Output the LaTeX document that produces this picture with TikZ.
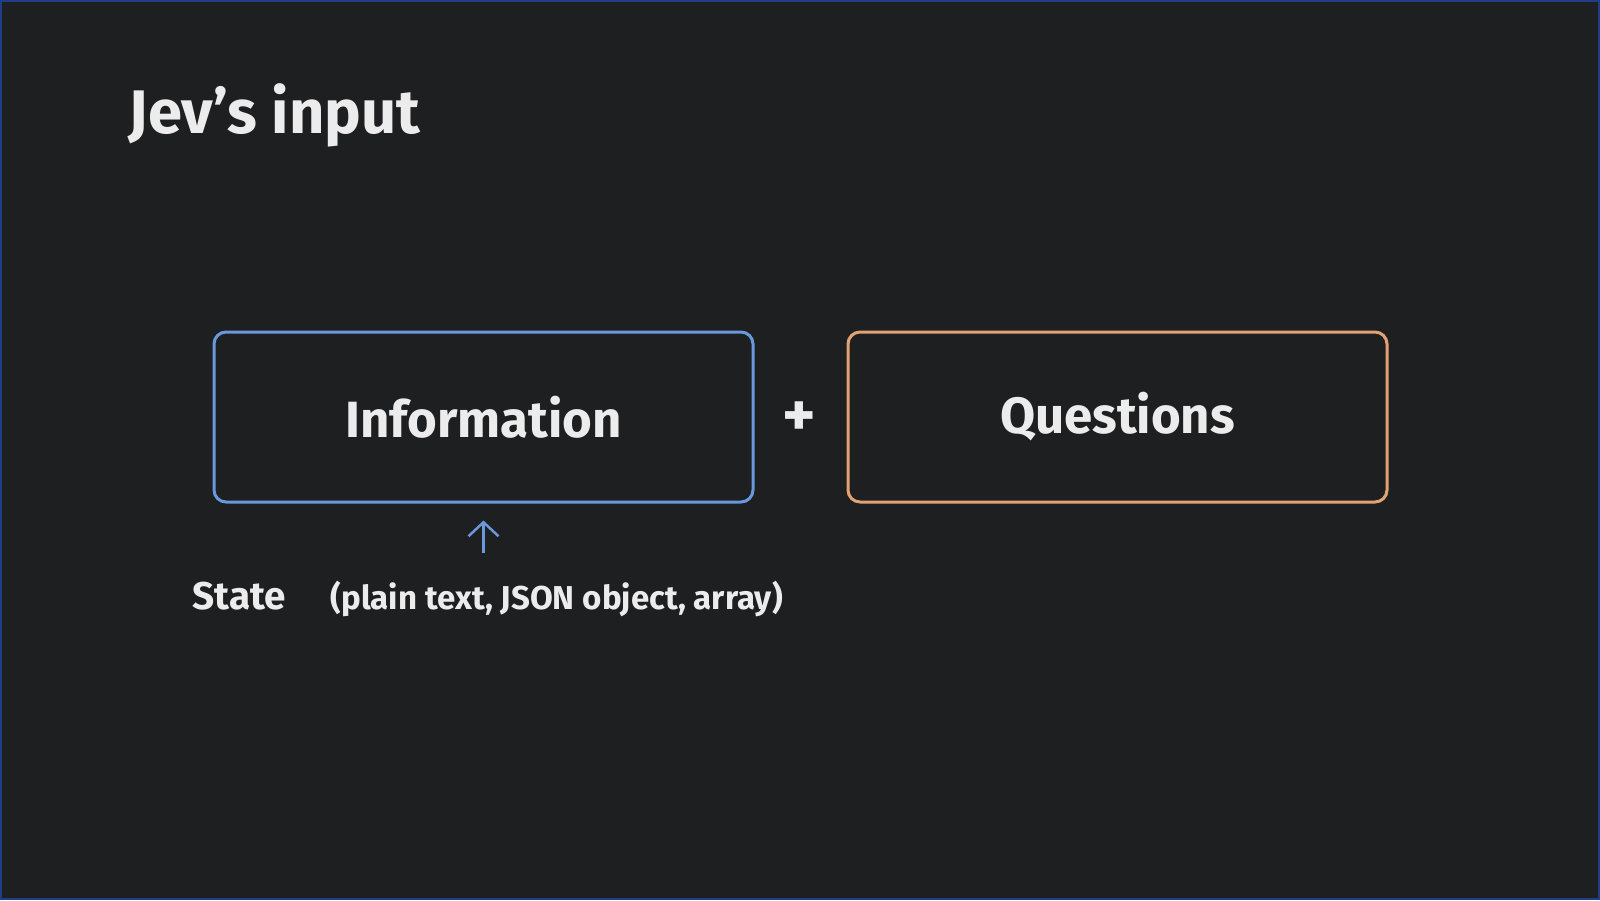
\documentclass[tikz,border=0pt]{standalone}
\usepackage{fontspec}
\setmainfont{Fira Sans}
\usetikzlibrary{positioning,arrows.meta}
\definecolor{bgcol}{HTML}{1E1F21}
\definecolor{framecol}{HTML}{1F3E86}
\definecolor{inkcol}{HTML}{ECECEC}
\definecolor{infocol}{HTML}{6A98DC}
\definecolor{questcol}{HTML}{E2A274}
\tikzset{
  card/.style={draw, rounded corners=0.12cm, line width=0.03cm, minimum width=5.39cm,
    minimum height=1.70cm, text=inkcol, font=\bfseries\fontsize{14.5}{18}\selectfont},
  label/.style={text=inkcol, inner sep=0pt, font=\bfseries\fontsize{11}{14}\selectfont}
}
\begin{document}
\begin{tikzpicture}
    \fill[bgcol] (0,0) rectangle (16,-9);
    \draw[framecol, line width=0.02cm] (0.01,-0.01) rectangle (15.99,-8.99);
    \useasboundingbox (0,0) rectangle (16,-9);
    \node[label, anchor=base west, font=\bfseries\fontsize{17.5}{22}\selectfont] (title) at (1.28,-1.33) {Jev’s input};
    \node[card, draw=infocol] (info) at (4.835,-4.17) {Information};
    \node[card, draw=questcol, right=0.92cm of info] (quest) {Questions};
    \node[text=inkcol, font=\bfseries\fontsize{18}{20}\selectfont] (plus) at (7.99,-4.19) {+};
    \coordinate (statetip) at (4.835,-5.53);
    \draw[infocol, line width=0.025cm, -{Straight Barb[width=0.3cm,length=0.14cm]}] (statetip) -- ([yshift=-0.17cm]info.south);
    \node[label, anchor=base west] (state) at (1.92,-6.09) {State};
    \node[label, anchor=base west, font=\bfseries\fontsize{9.4}{12}\selectfont] (kinds) at (3.30,-6.09) {(plain text, JSON object, array)};
\end{tikzpicture}
\end{document}
